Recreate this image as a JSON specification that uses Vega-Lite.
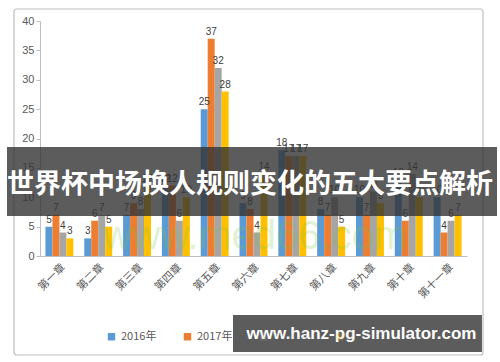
{
  "$schema": "https://vega.github.io/schema/vega-lite/v6.json",
  "width": 427,
  "height": 235,
  "autosize": {"type": "none"},
  "padding": {"left": 40, "top": 21, "right": 33, "bottom": 106},
  "background": "white",
  "config": {
    "view": {"stroke": null},
    "font": "Noto Sans CJK SC",
    "legend": {"labelFont": "Noto Sans CJK SC", "labelFontSize": 11, "labelColor": "#595959"}
  },
  "resolve": {"scale": {"x": "independent", "y": "independent"}},
  "layer": [
    {
      "data": {"values": [{"part": "frame"}]},
      "mark": {"type": "rect", "fill": null, "stroke": "#bfbfbf", "strokeWidth": 1.2, "cornerRadius": 3},
      "encoding": {
        "x": {"datum": -0.061, "type": "quantitative", "scale": {"domain": [0, 1], "nice": false, "zero": false}, "axis": null},
        "x2": {"datum": 1.0375},
        "y": {"datum": 42.04, "type": "quantitative", "scale": {"domain": [0, 40], "nice": false, "zero": false}, "axis": null},
        "y2": {"datum": -16.85}
      }
    },
    {
      "data": {"values": [
        {"chapter": "第一章", "year": "2016年", "value": 5},
        {"chapter": "第一章", "year": "2017年", "value": 7},
        {"chapter": "第一章", "year": "2018年", "value": 4},
        {"chapter": "第一章", "year": "2019年", "value": 3},
        {"chapter": "第二章", "year": "2016年", "value": 3},
        {"chapter": "第二章", "year": "2017年", "value": 6},
        {"chapter": "第二章", "year": "2018年", "value": 7},
        {"chapter": "第二章", "year": "2019年", "value": 5},
        {"chapter": "第三章", "year": "2016年", "value": 7},
        {"chapter": "第三章", "year": "2017年", "value": 9},
        {"chapter": "第三章", "year": "2018年", "value": 8},
        {"chapter": "第三章", "year": "2019年", "value": 12},
        {"chapter": "第四章", "year": "2016年", "value": 12},
        {"chapter": "第四章", "year": "2017年", "value": 12},
        {"chapter": "第四章", "year": "2018年", "value": 6},
        {"chapter": "第四章", "year": "2019年", "value": 10},
        {"chapter": "第五章", "year": "2016年", "value": 25},
        {"chapter": "第五章", "year": "2017年", "value": 37},
        {"chapter": "第五章", "year": "2018年", "value": 32},
        {"chapter": "第五章", "year": "2019年", "value": 28},
        {"chapter": "第六章", "year": "2016年", "value": 9},
        {"chapter": "第六章", "year": "2017年", "value": 8},
        {"chapter": "第六章", "year": "2018年", "value": 4},
        {"chapter": "第六章", "year": "2019年", "value": 14},
        {"chapter": "第七章", "year": "2016年", "value": 18},
        {"chapter": "第七章", "year": "2017年", "value": 17},
        {"chapter": "第七章", "year": "2018年", "value": 17},
        {"chapter": "第七章", "year": "2019年", "value": 17},
        {"chapter": "第八章", "year": "2016年", "value": 8},
        {"chapter": "第八章", "year": "2017年", "value": 7},
        {"chapter": "第八章", "year": "2018年", "value": 10},
        {"chapter": "第八章", "year": "2019年", "value": 5},
        {"chapter": "第九章", "year": "2016年", "value": 10},
        {"chapter": "第九章", "year": "2017年", "value": 7},
        {"chapter": "第九章", "year": "2018年", "value": 11},
        {"chapter": "第九章", "year": "2019年", "value": 9},
        {"chapter": "第十章", "year": "2016年", "value": 13},
        {"chapter": "第十章", "year": "2017年", "value": 6},
        {"chapter": "第十章", "year": "2018年", "value": 14},
        {"chapter": "第十章", "year": "2019年", "value": 10},
        {"chapter": "第十一章", "year": "2016年", "value": 10},
        {"chapter": "第十一章", "year": "2017年", "value": 4},
        {"chapter": "第十一章", "year": "2018年", "value": 6},
        {"chapter": "第十一章", "year": "2019年", "value": 7}
      ]},
      "encoding": {
        "x": {
          "field": "chapter", "type": "nominal",
          "sort": ["第一章", "第二章", "第三章", "第四章", "第五章", "第六章", "第七章", "第八章", "第九章", "第十章", "第十一章"],
          "scale": {"paddingInner": 0.28, "paddingOuter": 0.14},
          "axis": {"title": null, "labelAngle": -45, "labelFontSize": 11, "labelColor": "#595959", "ticks": false, "domainColor": "#bfbfbf", "labelPadding": 5}
        },
        "xOffset": {"field": "year", "type": "nominal", "sort": ["2016年", "2017年", "2018年", "2019年"]},
        "y": {
          "field": "value", "type": "quantitative",
          "scale": {"domain": [0, 40], "nice": false},
          "axis": {"title": null, "values": [0, 5, 10, 15, 20, 25, 30, 35, 40], "gridColor": "#c8c8c8", "domainColor": "#bfbfbf", "tickColor": "#bfbfbf", "tickSize": 4, "labelPadding": 2, "labelFontSize": 11, "labelColor": "#595959", "labelFont": "Liberation Sans"}
        }
      },
      "layer": [
        {
          "mark": {"type": "bar"},
          "encoding": {
            "color": {
              "field": "year", "type": "nominal",
              "scale": {"domain": ["2016年", "2017年", "2018年", "2019年"], "range": ["#5b9bd5", "#ed7d31", "#a5a5a5", "#ffc000"]},
              "legend": {
                "title": null, "orient": "none", "legendX": 66, "legendY": 310, "direction": "horizontal",
                "symbolType": "square", "symbolSize": 55, "symbolStrokeWidth": 0, "columnPadding": 25,
                "encode": {
                  "labels": {"update": {"opacity": {"signal": "indexof(['2018年', '2019年'], datum.value) >= 0 ? 0.15 : 1"}}},
                  "symbols": {"update": {"opacity": {"signal": "indexof(['2018年', '2019年'], datum.value) >= 0 ? 0.2 : 1"}}}
                }
              }
            }
          }
        },
        {
          "mark": {"type": "text", "baseline": "bottom", "dy": -2, "fontSize": 10, "color": "#404040", "font": "Liberation Sans"},
          "encoding": {"text": {"field": "value", "type": "quantitative"}}
        }
      ]
    },
    {
      "data": {"values": [{"part": "watermark"}]},
      "mark": {"type": "text", "text": "www.med66.com", "fontSize": 40, "font": "Liberation Sans", "color": "#7cc242", "opacity": 0.22, "align": "center", "baseline": "middle"},
      "encoding": {
        "x": {"datum": 0.5035, "type": "quantitative", "scale": {"domain": [0, 1], "nice": false, "zero": false}, "axis": null},
        "y": {"datum": 3.2, "type": "quantitative", "scale": {"domain": [0, 40], "nice": false, "zero": false}, "axis": null}
      }
    },
    {
      "data": {"values": [{"part": "title band"}]},
      "mark": {"type": "rect", "fill": "#333333", "opacity": 0.8},
      "encoding": {
        "x": {"datum": -0.0773, "type": "quantitative", "scale": {"domain": [0, 1], "nice": false, "zero": false}, "axis": null},
        "x2": {"datum": 1.0703},
        "y": {"datum": 18.55, "type": "quantitative", "scale": {"domain": [0, 40], "nice": false, "zero": false}, "axis": null},
        "y2": {"datum": 6.81}
      }
    },
    {
      "data": {"values": [{"part": "title text"}]},
      "mark": {"type": "text", "text": "世界杯中场换人规则变化的五大要点解析", "fontSize": 27, "fontWeight": "bold", "font": "Noto Sans CJK SC", "color": "white", "align": "center", "baseline": "middle"},
      "encoding": {
        "x": {"datum": 0.4918, "type": "quantitative", "scale": {"domain": [0, 1], "nice": false, "zero": false}, "axis": null},
        "y": {"datum": 12.1, "type": "quantitative", "scale": {"domain": [0, 40], "nice": false, "zero": false}, "axis": null}
      }
    },
    {
      "data": {"values": [{"part": "site band"}]},
      "mark": {"type": "rect", "fill": "#333333", "opacity": 0.8},
      "encoding": {
        "x": {"datum": 0.452, "type": "quantitative", "scale": {"domain": [0, 1], "nice": false, "zero": false}, "axis": null},
        "x2": {"datum": 1.035},
        "y": {"datum": -10.04, "type": "quantitative", "scale": {"domain": [0, 40], "nice": false, "zero": false}, "axis": null},
        "y2": {"datum": -16.34}
      }
    },
    {
      "data": {"values": [{"part": "site text"}]},
      "mark": {"type": "text", "text": "www.hanz-pg-simulator.com", "fontSize": 17, "fontWeight": "bold", "font": "Liberation Sans", "color": "white", "align": "center", "baseline": "middle"},
      "encoding": {
        "x": {"datum": 0.753, "type": "quantitative", "scale": {"domain": [0, 1], "nice": false, "zero": false}, "axis": null},
        "y": {"datum": -13.3, "type": "quantitative", "scale": {"domain": [0, 40], "nice": false, "zero": false}, "axis": null}
      }
    }
  ]
}
